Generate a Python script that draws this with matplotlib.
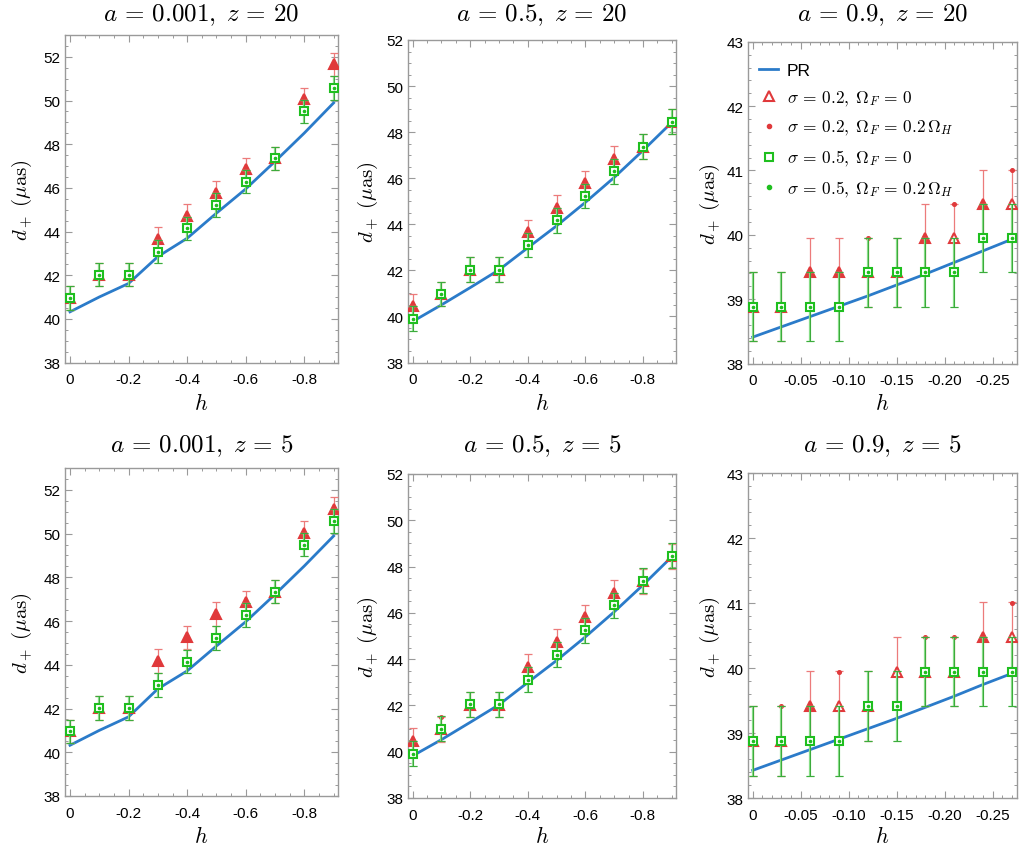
import matplotlib
matplotlib.use('Agg')
import matplotlib.pyplot as plt
from matplotlib.lines import Line2D
from matplotlib.ticker import MultipleLocator
import numpy as np

plt.rcParams['mathtext.fontset'] = 'cm'
plt.rcParams['font.family'] = ['Liberation Sans', 'DejaVu Sans']

# ---- data -------------------------------------------------------------
h_wide = [0, -0.1, -0.2, -0.3, -0.4, -0.5, -0.6, -0.7, -0.8, -0.9]
h_narrow = [0, -0.03, -0.06, -0.09, -0.12, -0.15, -0.18, -0.21, -0.24, -0.27]
err = 0.535

wide_xticks = [0, -0.2, -0.4, -0.6, -0.8]
wide_xlabels = ['0', '-0.2', '-0.4', '-0.6', '-0.8']
narrow_xticks = [0, -0.05, -0.10, -0.15, -0.20, -0.25]
narrow_xlabels = ['0', '-0.05', '-0.10', '-0.15', '-0.20', '-0.25']

# a = 0.001, z = 20
tl_pr = [40.32, 41.0, 41.62, 42.85, 43.69, 44.84, 45.95, 47.21, 48.51, 49.89]
tl_tri = [40.95, 42.02, 42.02, 43.65, 44.72, 45.78, 46.85, 47.35, 50.05, 51.65]
tl_dot_r = [40.95, 42.02, 42.02, 43.65, 44.72, 45.78, 46.85, 47.35, 50.05, 51.65]
tl_sq = [40.95, 42.02, 42.02, 43.08, 44.15, 45.22, 46.28, 47.35, 49.5, 50.57]
tl_dot_g = [40.95, 42.02, 42.02, 43.08, 44.15, 45.22, 46.28, 47.35, 49.5, 50.57]

# a = 0.5, z = 20
tm_pr = [39.78, 40.5, 41.25, 42.02, 42.98, 43.93, 44.95, 46.03, 47.2, 48.42]
tm_tri = [40.45, 40.97, 42.03, 42.03, 43.65, 44.72, 45.78, 46.85, 47.37, 48.45]
tm_dot_r = [40.45, 40.97, 42.03, 42.03, 43.65, 44.72, 45.78, 46.85, 47.37, 48.45]
tm_sq = [39.9, 40.97, 42.03, 42.03, 43.1, 44.17, 45.23, 46.3, 47.37, 48.45]
tm_dot_g = [39.9, 40.97, 42.03, 42.03, 43.1, 44.17, 45.23, 46.3, 47.37, 48.45]

# a = 0.9, z = 20
tr_pr = [38.41, 38.57, 38.73, 38.89, 39.05, 39.22, 39.39, 39.57, 39.75, 39.93]
tr_tri = [38.88, 38.88, 39.42, 39.42, 39.42, 39.42, 39.95, 39.95, 40.48, 40.48]
tr_dot_r = [38.88, 38.88, 39.42, 39.42, 39.95, 39.42, 39.95, 40.48, 40.48, 41.0]
tr_sq = [38.88, 38.88, 38.88, 38.88, 39.42, 39.42, 39.42, 39.42, 39.95, 39.95]
tr_dot_g = [38.88, 38.88, 38.88, 38.88, 39.42, 39.42, 39.42, 39.42, 39.95, 39.95]

# a = 0.001, z = 5
bl_pr = [40.32, 41.0, 41.62, 42.9, 43.72, 44.86, 45.97, 47.22, 48.52, 49.89]
bl_tri = [40.95, 42.02, 42.02, 44.18, 45.25, 46.32, 46.85, 47.35, 50.05, 51.12]
bl_dot_r = [40.95, 42.02, 42.02, 44.18, 45.25, 46.32, 46.85, 47.35, 50.05, 51.12]
bl_sq = [40.95, 42.02, 42.02, 43.08, 44.15, 45.22, 46.28, 47.35, 49.5, 50.57]
bl_dot_g = [40.95, 42.02, 42.02, 43.08, 44.15, 45.22, 46.28, 47.35, 49.5, 50.57]

# a = 0.5, z = 5
bm_pr = [39.82, 40.52, 41.27, 42.03, 42.99, 43.94, 44.96, 46.04, 47.2, 48.42]
bm_tri = [40.48, 40.97, 42.03, 42.03, 43.68, 44.75, 45.8, 46.87, 47.37, 48.45]
bm_dot_r = [40.48, 41.5, 42.03, 42.03, 43.68, 44.75, 45.8, 46.87, 47.37, 48.45]
bm_sq = [39.92, 40.99, 42.05, 42.05, 43.12, 44.19, 45.25, 46.32, 47.39, 48.47]
bm_dot_g = [39.92, 40.99, 42.05, 42.05, 43.12, 44.19, 45.25, 46.32, 47.39, 48.47]

# a = 0.9, z = 5
br_pr = [38.43, 38.59, 38.75, 38.91, 39.07, 39.23, 39.4, 39.57, 39.75, 39.92]
br_tri = [38.88, 38.88, 39.42, 39.42, 39.42, 39.95, 39.95, 39.95, 40.48, 40.48]
br_dot_r = [38.88, 39.42, 39.42, 39.95, 39.42, 39.42, 40.48, 40.48, 40.48, 41.0]
br_sq = [38.88, 38.88, 38.88, 38.88, 39.42, 39.42, 39.95, 39.95, 39.95, 39.95]
br_dot_g = [38.88, 38.88, 38.88, 38.88, 39.42, 39.42, 39.95, 39.95, 39.95, 39.95]

titles = [r'$a\,=\,0.001,\;z\,=\,20$', r'$a\,=\,0.5,\;z\,=\,20$', r'$a\,=\,0.9,\;z\,=\,20$',
          r'$a\,=\,0.001,\;z\,=\,5$', r'$a\,=\,0.5,\;z\,=\,5$', r'$a\,=\,0.9,\;z\,=\,5$']

# ---- style ------------------------------------------------------------
C_PR = '#2b7bc9'
C_RED = '#e0393b'
C_RED_BAR = '#ec7b7b'
C_GREEN = '#1fbf1f'
C_GREEN_BAR = '#86dc86'
C_GREEN_BAR2 = '#3aaa3a'
C_FRAME = '#9a9a9a'

W, H = 1030, 854
fig = plt.figure(figsize=(W / 100, H / 100), dpi=100)


def rect(l, r, t, b):
    return [l / W, 1 - b / H, (r - l) / W, (b - t) / H]


def panel(box, h, pr, tri, dot_r, sq, dot_g, ylim, xlim, xt, xl, ymaj, ymin, xmin):
    ax = fig.add_axes(rect(*box))
    ax.plot(h, pr, color=C_PR, lw=2.0, zorder=2)

    ax.errorbar(h, tri, yerr=err, fmt='none', ecolor=C_RED_BAR, elinewidth=0.9,
                capsize=2.6, capthick=0.9, zorder=3)
    ax.plot(h, dot_r, 'o', color=C_RED, ms=2.6, zorder=4, linestyle='none')
    for x, t, d in zip(h, tri, dot_r):
        face = C_RED if abs(t - d) < 1e-6 else 'white'
        ax.plot([x], [t], marker='^', ms=7, mfc=face, mec=C_RED, mew=1.5,
                linestyle='none', zorder=5)

    ax.errorbar(h, sq, yerr=err, fmt='none', ecolor=C_GREEN_BAR, elinewidth=1.6,
                capsize=2.6, capthick=1.0, zorder=6)
    ax.errorbar(h, dot_g, yerr=err, fmt='none', ecolor=C_GREEN_BAR2, elinewidth=0.7,
                capsize=2.6, capthick=0.7, zorder=6)
    ax.plot(h, sq, 's', ms=6, mfc='white', mec=C_GREEN, mew=1.5, linestyle='none', zorder=7)
    ax.plot(h, dot_g, 'o', ms=1.6, color=C_GREEN, linestyle='none', zorder=8)

    ax.set_xlim(*xlim)
    ax.set_ylim(*ylim)
    ax.set_xticks(xt)
    ax.set_xticklabels(xl)
    ax.xaxis.set_minor_locator(MultipleLocator(xmin))
    ax.yaxis.set_major_locator(MultipleLocator(ymaj))
    ax.yaxis.set_minor_locator(MultipleLocator(ymin))
    ax.tick_params(which='both', direction='in', top=True, right=True,
                   color=C_FRAME, labelsize=11, labelcolor='black')
    ax.tick_params(which='major', length=5, width=0.8)
    ax.tick_params(which='minor', length=2.5, width=0.7)
    ax.tick_params(axis='x', pad=7)
    ax.tick_params(axis='y', pad=3)
    for s in ax.spines.values():
        s.set_color(C_FRAME)
        s.set_linewidth(1.0)
    return ax


wide_lim = (0.017, -0.915)
narrow_lim = (0.0052, -0.2752)

boxes = [(65, 338, 36, 363.5), (407.7, 676, 41, 363.5), (747.7, 1016.7, 42.8, 364.5),
         (65, 338, 469, 797), (407.7, 676, 475, 799), (747.7, 1016.7, 474.3, 799.3)]

axes = []
axes.append(panel(boxes[0], h_wide, tl_pr, tl_tri, tl_dot_r, tl_sq, tl_dot_g,
                  (38, 53), wide_lim, wide_xticks, wide_xlabels, 2, 0.5, 0.05))
axes.append(panel(boxes[1], h_wide, tm_pr, tm_tri, tm_dot_r, tm_sq, tm_dot_g,
                  (38, 52), wide_lim, wide_xticks, wide_xlabels, 2, 0.5, 0.05))
axes.append(panel(boxes[2], h_narrow, tr_pr, tr_tri, tr_dot_r, tr_sq, tr_dot_g,
                  (38, 43), narrow_lim, narrow_xticks, narrow_xlabels, 1, 0.2, 0.01))
axes.append(panel(boxes[3], h_wide, bl_pr, bl_tri, bl_dot_r, bl_sq, bl_dot_g,
                  (38, 53), wide_lim, wide_xticks, wide_xlabels, 2, 0.5, 0.05))
axes.append(panel(boxes[4], h_wide, bm_pr, bm_tri, bm_dot_r, bm_sq, bm_dot_g,
                  (38, 52), wide_lim, wide_xticks, wide_xlabels, 2, 0.5, 0.05))
axes.append(panel(boxes[5], h_narrow, br_pr, br_tri, br_dot_r, br_sq, br_dot_g,
                  (38, 43), narrow_lim, narrow_xticks, narrow_xlabels, 1, 0.2, 0.01))

ylab_x = [22, 368, 710]
for i, (box, title) in enumerate(zip(boxes, titles)):
    l, r, t, b = box
    cx = (l + r) / 2
    row_top = 15 if i < 3 else 446
    fig.text(cx / W, 1 - row_top / H, title, ha='center', va='center', fontsize=18)
    hy = 405 if i < 3 else 838
    fig.text(cx / W, 1 - hy / H, r'$h$', ha='center', va='center', fontsize=16)
    fig.text(ylab_x[i % 3] / W, 1 - ((t + b) / 2) / H, r'$d_+\ (\mu\mathrm{as})$',
             ha='center', va='center', rotation=90, fontsize=15)

handles = [
    Line2D([], [], color=C_PR, lw=2.0),
    Line2D([], [], marker='^', ms=7, mfc='white', mec=C_RED, mew=1.5, linestyle='none'),
    Line2D([], [], marker='o', ms=3, color=C_RED, linestyle='none'),
    Line2D([], [], marker='s', ms=6, mfc='white', mec=C_GREEN, mew=1.5, linestyle='none'),
    Line2D([], [], marker='o', ms=3, color=C_GREEN, linestyle='none'),
]
labels = ['PR', r'$\sigma\,=\,0.2,\; \Omega_F\,=\,0$', r'$\sigma\,=\,0.2,\; \Omega_F\,=\,0.2\,\Omega_H$',
          r'$\sigma\,=\,0.5,\; \Omega_F\,=\,0$', r'$\sigma\,=\,0.5,\; \Omega_F\,=\,0.2\,\Omega_H$']
axes[2].legend(handles, labels, loc='upper left', frameon=False, fontsize=12.5,
               handlelength=1.1, handletextpad=0.5, labelspacing=0.62,
               borderaxespad=0.8, bbox_to_anchor=(-0.035, 1.0))

fig.savefig('out.png', dpi=100)
